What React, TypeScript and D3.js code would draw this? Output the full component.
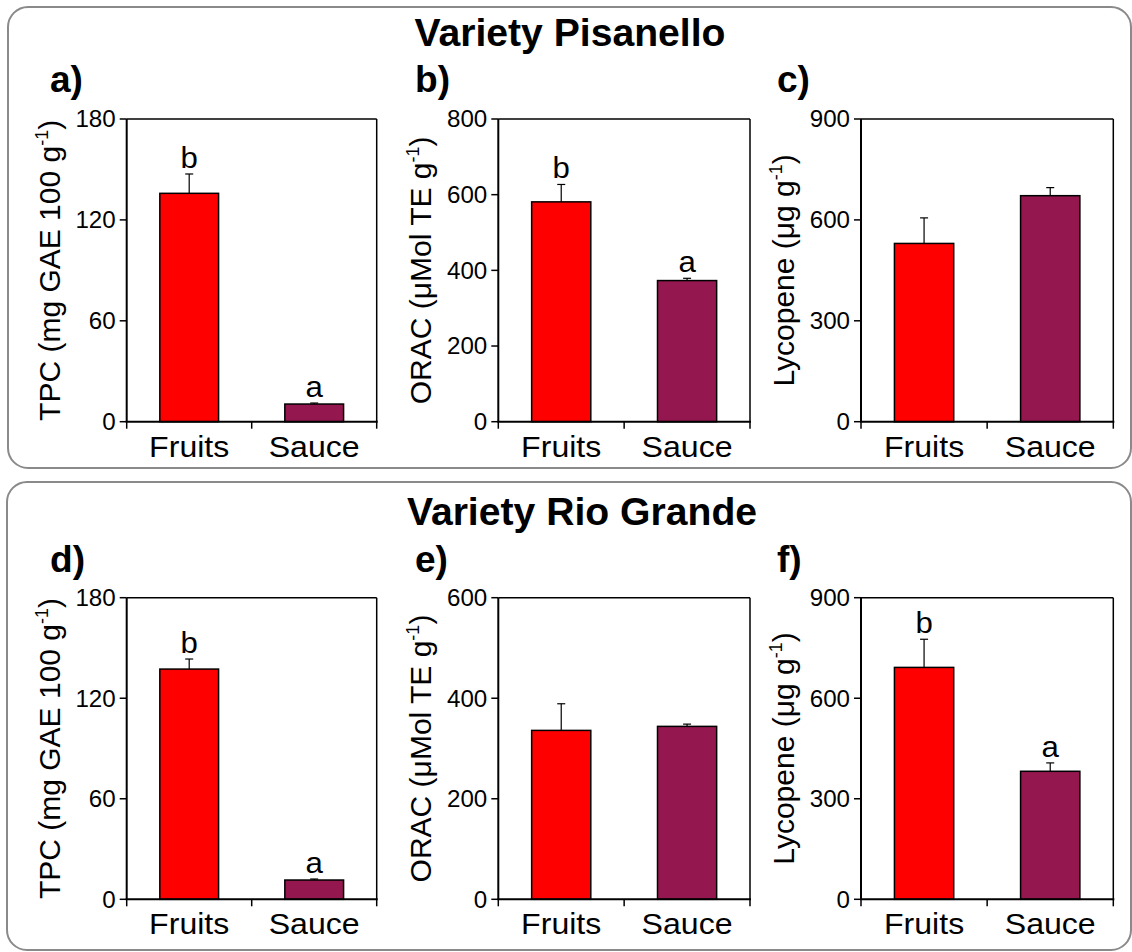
import React from "react";
import * as d3 from "d3";

// Categories on every x axis
const categories = ["Fruits", "Sauce"];

// Variety Pisanello
const tpcPisanello = [135.8, 10.5];
const tpcPisanelloErr = [11.5, 0.6];
const oracPisanello = [581, 373];
const oracPisanelloErr = [46, 6];
const lycPisanello = [530, 672];
const lycPisanelloErr = [76, 24];

// Variety Rio Grande
const tpcRio = [137.4, 11.5];
const tpcRioErr = [6, 0.6];
const oracRio = [336, 344];
const oracRioErr = [53, 4.5];
const lycRio = [692, 382];
const lycRioErr = [84, 25];

// Significance letters (empty = no difference)
const lettersTpcPisanello = ["b", "a"];
const lettersOracPisanello = ["b", "a"];
const lettersLycPisanello: string[] = [];
const lettersTpcRio = ["b", "a"];
const lettersOracRio: string[] = [];
const lettersLycRio = ["b", "a"];

// Y tick values
const tpcTicks = [0, 60, 120, 180];
const oracTicksPisanello = [0, 200, 400, 600, 800];
const oracTicksRio = [0, 200, 400, 600];
const lycTicks = [0, 300, 600, 900];

const titles = ["Variety Pisanello", "Variety Rio Grande"];
const panelTags = ["a)", "b)", "c)", "d)", "e)", "f)"];

const FONT = "'Liberation Sans', Arial, Helvetica, sans-serif";
const barColors = ["#ff0000", "#94174f"];

type YLabel = { pre: string; sup: string; post: string };
const yLabelTpc: YLabel = { pre: "TPC (mg GAE 100 g", sup: "-1", post: ")" };
const yLabelOrac: YLabel = { pre: "ORAC (\u03bcMol TE g", sup: "-1", post: ")" };
const yLabelLyc: YLabel = { pre: "Lycopene (\u03bcg g", sup: "-1", post: ")" };

// Horizontally widened text helper
function WideText(props: {
  x: number;
  y: number;
  sx?: number;
  size: number;
  anchor?: "start" | "middle" | "end";
  bold?: boolean;
  dy?: string;
  children: React.ReactNode;
}) {
  const sx = props.sx ?? 1.07;
  return (
    <text
      transform={`translate(${props.x},${props.y}) scale(${sx},1)`}
      dy={props.dy}
      textAnchor={props.anchor ?? "start"}
      fontFamily={FONT}
      fontWeight={props.bold ? "bold" : "normal"}
      fontSize={props.size}
      fill="#000"
    >
      {props.children}
    </text>
  );
}

type PanelProps = {
  x0: number;
  x1: number;
  yTop: number;
  yBottom: number;
  ticks: number[];
  values: number[];
  errs: number[];
  letters: string[];
  yLabel: YLabel;
  tag: string;
  tagX: number;
  tagY: number;
};

function Panel(p: PanelProps) {
  const max = p.ticks[p.ticks.length - 1];
  const y = d3.scaleLinear().domain([0, max]).range([p.yBottom, p.yTop]);
  const x = d3.scaleBand<string>().domain(categories).range([p.x0, p.x1]).padding(0);
  const bw = x.bandwidth() * 0.47;
  const cy = (p.yTop + p.yBottom) / 2;
  const tickLen = 7;
  const xTickPositions = [p.x0, ...categories.slice(1).map((c) => x(c) as number), p.x1];

  return (
    <g>
      <WideText x={p.tagX} y={p.tagY} size={36} bold sx={1.03}>
        {p.tag}
      </WideText>

      {/* bars with upper error bars */}
      {categories.map((c, i) => {
        const cx = (x(c) as number) + x.bandwidth() / 2;
        const top = y(p.values[i]);
        const errTop = y(p.values[i] + p.errs[i]);
        return (
          <g key={c}>
            <line x1={cx} x2={cx} y1={top} y2={errTop} stroke="#000" strokeWidth={1.2} />
            <line x1={cx - 4} x2={cx + 4} y1={errTop} y2={errTop} stroke="#000" strokeWidth={1.2} />
            <rect
              x={cx - bw / 2}
              y={top}
              width={bw}
              height={p.yBottom - top}
              fill={barColors[i]}
              stroke="#000"
              strokeWidth={1.5}
            />
            {p.letters[i] ? (
              <WideText x={cx} y={errTop - 6} size={30} anchor="middle" sx={1.04}>
                {p.letters[i]}
              </WideText>
            ) : null}
          </g>
        );
      })}

      {/* plot frame */}
      <line x1={p.x0} x2={p.x1} y1={p.yTop} y2={p.yTop} stroke="#000" strokeWidth={1.5} />
      <line x1={p.x1} x2={p.x1} y1={p.yTop} y2={p.yBottom} stroke="#000" strokeWidth={1.5} />
      <line x1={p.x0} x2={p.x0} y1={p.yTop} y2={p.yBottom} stroke="#000" strokeWidth={2} />
      <line x1={p.x0 - 1} x2={p.x1 + 1} y1={p.yBottom} y2={p.yBottom} stroke="#000" strokeWidth={2} />

      {/* y ticks */}
      {p.ticks.map((t) => (
        <g key={t}>
          <line x1={p.x0 - tickLen} x2={p.x0} y1={y(t)} y2={y(t)} stroke="#000" strokeWidth={1.5} />
          <WideText x={p.x0 - 11} y={y(t)} dy="0.36em" anchor="end" size={23} sx={1.05}>
            {t}
          </WideText>
        </g>
      ))}

      {/* x ticks */}
      {xTickPositions.map((xp, i) => (
        <line key={i} x1={xp} x2={xp} y1={p.yBottom} y2={p.yBottom + tickLen} stroke="#000" strokeWidth={1.5} />
      ))}
      {categories.map((c) => (
        <WideText key={c} x={(x(c) as number) + x.bandwidth() / 2} y={p.yBottom + 35} size={30} anchor="middle">
          {c}
        </WideText>
      ))}

      {/* y label */}
      <text
        transform={`translate(${p.x0 - 67},${cy}) rotate(-90)`}
        textAnchor="middle"
        fontFamily={FONT}
        fontSize={30}
        fill="#000"
      >
        {p.yLabel.pre}
        <tspan fontSize={18} dy={-12}>
          {p.yLabel.sup}
        </tspan>
        <tspan dy={12}>{p.yLabel.post}</tspan>
      </text>
    </g>
  );
}

export default function App() {
  const colX = [
    [126.7, 376.7],
    [498.3, 750],
    [861, 1113.3],
  ];
  const rowY = [
    [119, 421.7],
    [597.7, 899.3],
  ];
  const tagX = [50, 415, 777];
  const tagY = [92, 572];

  const rows = [
    {
      panels: [
        { values: tpcPisanello, errs: tpcPisanelloErr, ticks: tpcTicks, letters: lettersTpcPisanello, yLabel: yLabelTpc },
        { values: oracPisanello, errs: oracPisanelloErr, ticks: oracTicksPisanello, letters: lettersOracPisanello, yLabel: yLabelOrac },
        { values: lycPisanello, errs: lycPisanelloErr, ticks: lycTicks, letters: lettersLycPisanello, yLabel: yLabelLyc },
      ],
    },
    {
      panels: [
        { values: tpcRio, errs: tpcRioErr, ticks: tpcTicks, letters: lettersTpcRio, yLabel: yLabelTpc },
        { values: oracRio, errs: oracRioErr, ticks: oracTicksRio, letters: lettersOracRio, yLabel: yLabelOrac },
        { values: lycRio, errs: lycRioErr, ticks: lycTicks, letters: lettersLycRio, yLabel: yLabelLyc },
      ],
    },
  ];

  const boxes = [
    { x: 8, y: 7, w: 1123, h: 461 },
    { x: 7, y: 482, w: 1124, h: 468 },
  ];
  const titlePos = [
    { x: 570, y: 46 },
    { x: 582, y: 525 },
  ];

  return (
    <div style={{ position: "absolute", left: 0, top: 0 }}>
      <svg width={1132} height={952} viewBox="0 0 1132 952" style={{ display: "block", background: "#fff" }}>
        <rect x={0} y={0} width={1132} height={952} fill="#fff" />
        {boxes.map((b, i) => (
          <rect key={i} x={b.x} y={b.y} width={b.w} height={b.h} rx={20} ry={20} fill="none" stroke="#8a8a8a" strokeWidth={2} />
        ))}
        {titles.map((t, i) => (
          <WideText key={t} x={titlePos[i].x} y={titlePos[i].y} size={38} bold anchor="middle" sx={1.03}>
            {t}
          </WideText>
        ))}
        {rows.map((r, ri) =>
          r.panels.map((pn, ci) => (
            <Panel
              key={`${ri}-${ci}`}
              x0={colX[ci][0]}
              x1={colX[ci][1]}
              yTop={rowY[ri][0]}
              yBottom={rowY[ri][1]}
              ticks={pn.ticks}
              values={pn.values}
              errs={pn.errs}
              letters={pn.letters}
              yLabel={pn.yLabel}
              tag={panelTags[ri * 3 + ci]}
              tagX={tagX[ci]}
              tagY={tagY[ri]}
            />
          ))
        )}
      </svg>
    </div>
  );
}
